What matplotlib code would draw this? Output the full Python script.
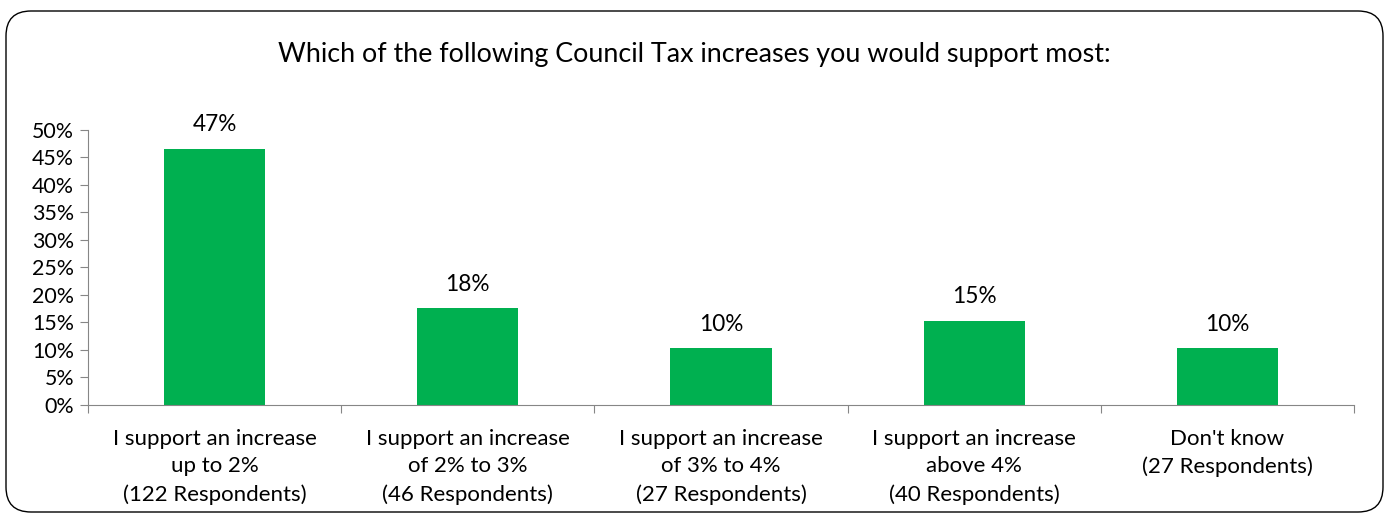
import matplotlib
matplotlib.use("Agg")
from matplotlib import pyplot as plt
from matplotlib.patches import FancyBboxPatch
from matplotlib.ticker import MultipleLocator, PercentFormatter

# Survey answers and respondent counts
categories = [
    "I support an increase\nup to 2%",
    "I support an increase\nof 2% to 3%",
    "I support an increase\nof 3% to 4%",
    "I support an increase\nabove 4%",
    "Don't know",
]
respondents = [122, 46, 27, 40, 27]
total = sum(respondents)
shares = [100 * n / total for n in respondents]

plt.rcParams["font.family"] = ["Lato", "DejaVu Sans"]

fig = plt.figure(figsize=(13.89, 5.15), dpi=100)
ax = fig.add_axes([0.0634, 0.2136, 0.9114, 0.534])

x = range(len(categories))
ax.bar(x, shares, width=0.40, color="#00B050", zorder=2)
for xi, v in zip(x, shares):
    ax.text(xi, v + 4.4, f"{v:.0f}%", ha="center", va="center", fontsize=16.3)

ax.set_xlim(-0.5, len(categories) - 0.5)
ax.set_ylim(0, 50)
ax.yaxis.set_major_locator(MultipleLocator(5))
ax.yaxis.set_major_formatter(PercentFormatter(decimals=0))

# category labels sit between the boundary ticks
ax.set_xticks([i - 0.5 for i in range(len(categories) + 1)])
ax.set_xticklabels([])
ax.set_xticks(list(x), minor=True)
ax.set_xticklabels(
    [f"{c}\n({n} Respondents)" for c, n in zip(categories, respondents)],
    minor=True, fontsize=16, linespacing=1.48,
)
ax.tick_params(axis="x", which="minor", length=0, pad=17)
ax.tick_params(axis="x", which="major", length=6, color="#868686", direction="out")
ax.tick_params(axis="y", length=6, color="#868686", labelsize=15.4, pad=4)

for side in ("top", "right"):
    ax.spines[side].set_visible(False)
for side in ("left", "bottom"):
    ax.spines[side].set_color("#868686")

fig.text(0.5, 0.895, "Which of the following Council Tax increases you would support most:",
         ha="center", va="center", fontsize=19.4)

# rounded chart frame
frame = FancyBboxPatch((0.06, 0.03), 13.77, 5.01,
                       boxstyle="round,pad=0,rounding_size=0.25",
                       transform=fig.dpi_scale_trans, fill=False,
                       edgecolor="black", linewidth=1.0)
fig.patches.append(frame)

plt.savefig("out.png", dpi=100)
